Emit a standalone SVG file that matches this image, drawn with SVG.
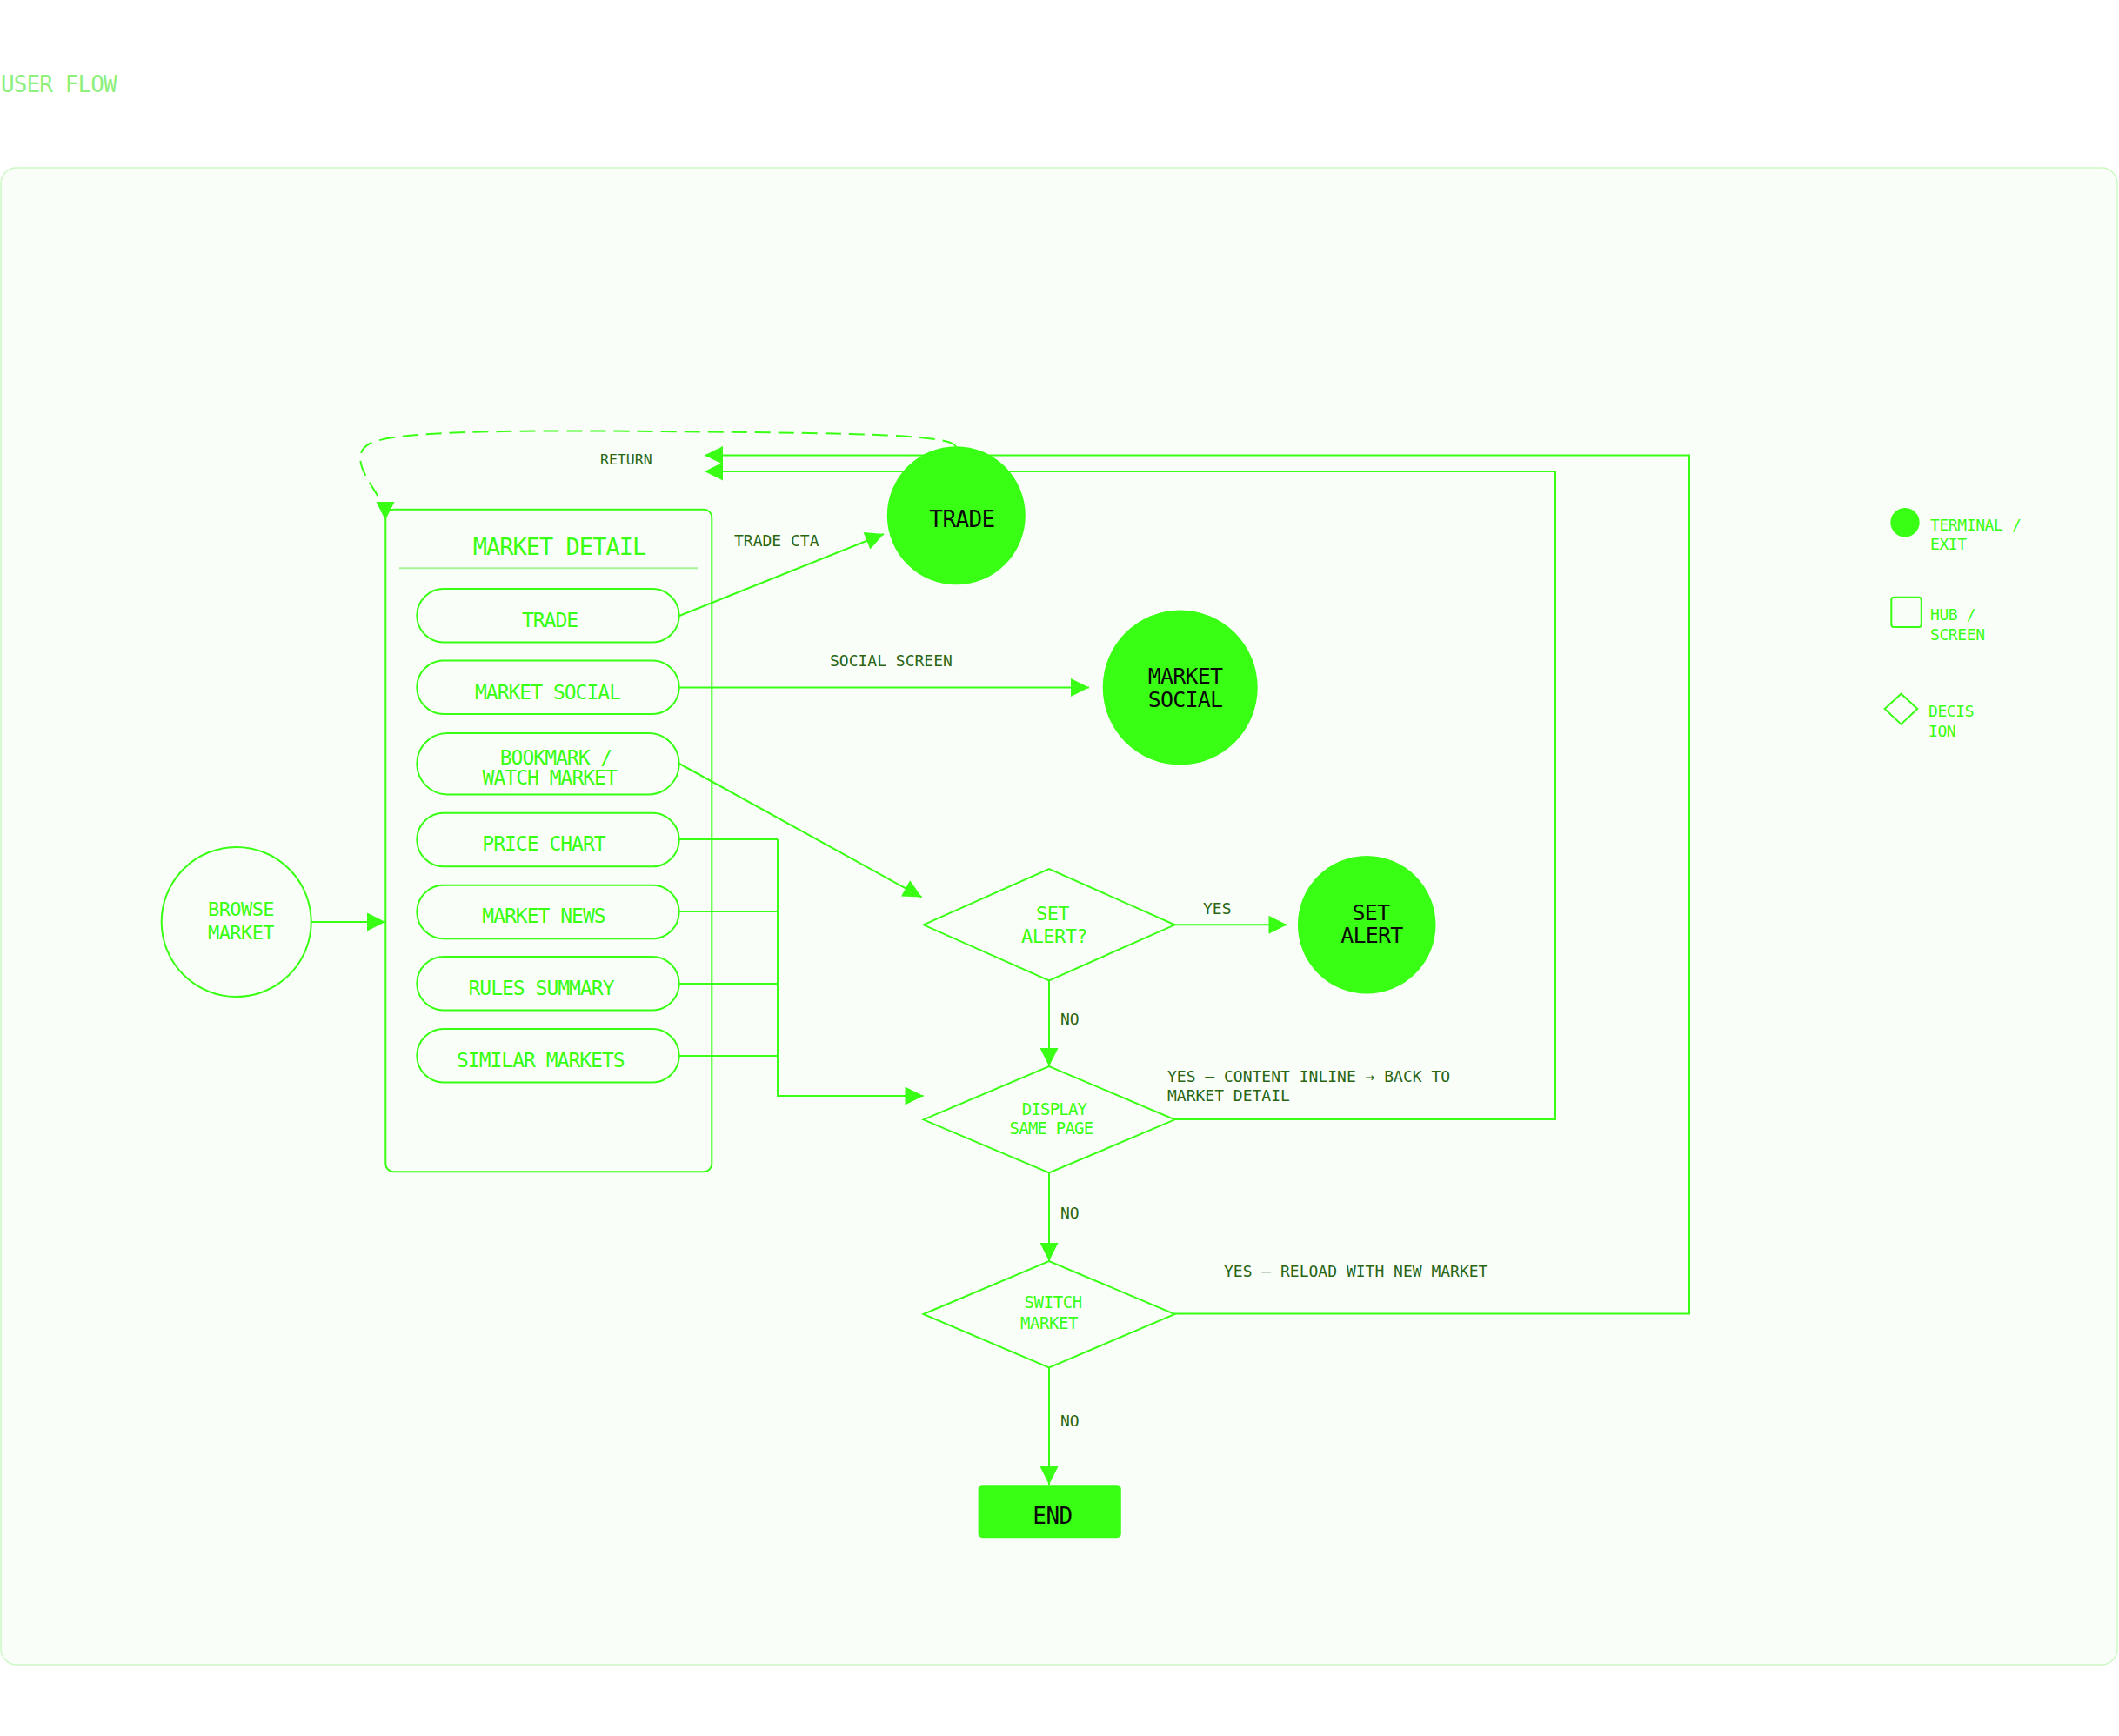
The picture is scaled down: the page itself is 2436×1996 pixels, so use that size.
<svg xmlns="http://www.w3.org/2000/svg" width="2436" height="1996" viewBox="0 0 2436 1996">
<defs>
<style>
text{font-family:"DejaVu Sans Mono","Liberation Mono",monospace;}
.ln{fill:none;stroke:#39ff14;stroke-width:2;}
.dash{fill:none;stroke:#39ff14;stroke-width:2;stroke-dasharray:18 9;}
.pill{fill:#f9fef8;stroke:#39ff14;stroke-width:2;}
.term{fill:#39ff14;}
.dia{fill:#f9fef8;stroke:#39ff14;stroke-width:2;}
.pt{fill:#39ff14;font-size:23px;letter-spacing:-1px;text-anchor:middle;}
.tt{fill:#0a0a0a;font-size:25px;letter-spacing:-0.8px;text-anchor:middle;}
.dt{fill:#39ff14;text-anchor:middle;}
.lbl{fill:#2a6614;font-size:18px;}
.lg{fill:#39ff14;font-size:18px;letter-spacing:-0.4px;}
</style>
<marker id="ah" viewBox="0 0 10 10" refX="10" refY="5" markerUnits="userSpaceOnUse" markerWidth="22" markerHeight="21" orient="auto">
<path d="M0,0 L10,5 L0,10 z" fill="#39ff14"/>
</marker>
</defs>
<rect x="0" y="0" width="2436" height="1996" fill="#ffffff"/>
<text x="1" y="106" style="fill:#8ef07c;font-size:26px;letter-spacing:-0.9px;">USER FLOW</text>
<rect x="1" y="193" width="2433" height="1721" rx="18" fill="#f9fef8" stroke="#cdf7c4" stroke-width="1.5"/>

<g id="market-detail">
<rect x="443.3" y="585.7" width="375" height="761.5" rx="9" fill="none" stroke="#39ff14" stroke-width="2"/>
<text class="dt" x="643" y="638" style="font-size:27px;letter-spacing:-1px;">MARKET DETAIL</text>
<line x1="459" y1="653.3" x2="802" y2="653.3" stroke="#a6f39a" stroke-width="2"/>
</g>

<g id="connectors">
<path class="ln" d="M357.7,1060 H443" marker-end="url(#ah)"/>
<path class="ln" d="M781,708 L1016,614" marker-end="url(#ah)"/>
<path class="ln" d="M781,790.5 H1252" marker-end="url(#ah)"/>
<path class="ln" d="M781,878 L1059.5,1031.5" marker-end="url(#ah)"/>
<path class="ln" d="M781,965 H894 M781,1048 H894 M781,1131 H894 M781,1214 H894"/>
<path class="ln" d="M894,965 V1260 H1061.5" marker-end="url(#ah)"/>
<path class="ln" d="M1350,1063.3 H1479.5" marker-end="url(#ah)"/>
<path class="ln" d="M1206,1127.3 V1226" marker-end="url(#ah)"/>
<path class="ln" d="M1206,1348.5 V1450" marker-end="url(#ah)"/>
<path class="ln" d="M1206,1572.3 V1707" marker-end="url(#ah)"/>
<path class="ln" d="M1350,1287 H1788 V542 H810" marker-end="url(#ah)"/>
<path class="ln" d="M1350,1510.5 H1942 V523.5 H810" marker-end="url(#ah)"/>
<path class="dash" d="M1099,514 C1096,500 1000,498 760,496 C560,494 450,497 425,510 C410,518 413,533 420,546 C430,566 443,578 443,598" marker-end="url(#ah)"/>
<text class="lbl" x="690" y="534" style="font-size:16.5px;">RETURN</text>
<text class="lbl" x="844" y="627.5">TRADE CTA</text>
<text class="lbl" x="954" y="766">SOCIAL SCREEN</text>
<text class="lbl" x="1383" y="1050.5">YES</text>
<text class="lbl" x="1219" y="1178">NO</text>
<text class="lbl" x="1342" y="1244">YES – CONTENT INLINE → BACK TO</text>
<text class="lbl" x="1342" y="1266">MARKET DETAIL</text>
<text class="lbl" x="1219" y="1401">NO</text>
<text class="lbl" x="1407" y="1468">YES – RELOAD WITH NEW MARKET</text>
<text class="lbl" x="1219" y="1640">NO</text>
</g>

<g id="browse-market">
<circle cx="271.7" cy="1060" r="86" fill="#f9fef8" stroke="#39ff14" stroke-width="2"/>
<text class="dt" x="277" y="1052.5" style="font-size:22px;letter-spacing:-0.6px;">BROWSE</text>
<text class="dt" x="277" y="1079.5" style="font-size:22px;letter-spacing:-0.6px;">MARKET</text>
</g>

<g id="pill-trade">
<rect class="pill" x="479.3" y="677" width="301.4" height="61.5" rx="30.75"/>
<text class="pt" x="632" y="721">TRADE</text>
</g>
<g id="pill-market-social">
<rect class="pill" x="479.3" y="759.5" width="301.4" height="61.5" rx="30.75"/>
<text class="pt" x="629.5" y="804.3">MARKET SOCIAL</text>
</g>
<g id="pill-bookmark">
<rect class="pill" x="479.3" y="843" width="301.4" height="70.4" rx="35.2"/>
<text class="pt" x="639" y="879">BOOKMARK /</text>
<text class="pt" x="631.7" y="902">WATCH MARKET</text>
</g>
<g id="pill-price-chart">
<rect class="pill" x="479.3" y="934.8" width="301.4" height="61.5" rx="30.75"/>
<text class="pt" x="625" y="977.5">PRICE CHART</text>
</g>
<g id="pill-market-news">
<rect class="pill" x="479.3" y="1017.8" width="301.4" height="61.5" rx="30.75"/>
<text class="pt" x="625" y="1061">MARKET NEWS</text>
</g>
<g id="pill-rules-summary">
<rect class="pill" x="479.3" y="1100" width="301.4" height="61.5" rx="30.75"/>
<text class="pt" x="622" y="1143.5">RULES SUMMARY</text>
</g>
<g id="pill-similar-markets">
<rect class="pill" x="479.3" y="1183" width="301.4" height="61.5" rx="30.75"/>
<text class="pt" x="621.3" y="1226.5">SIMILAR MARKETS</text>
</g>

<g id="trade">
<circle class="term" cx="1099.3" cy="592.8" r="79.5"/>
<text class="tt" x="1106" y="606" style="font-size:26px;letter-spacing:-0.6px;">TRADE</text>
</g>
<g id="market-social">
<circle class="term" cx="1356.7" cy="790.5" r="89"/>
<text class="tt" x="1362.5" y="786">MARKET</text>
<text class="tt" x="1362.5" y="812.7">SOCIAL</text>
</g>

<g id="set-alert-decision">
<polygon class="dia" points="1061.5,1063.3 1206,999 1350.5,1063.3 1206,1127.3"/>
<text class="dt" x="1210" y="1057.7" style="font-size:22px;letter-spacing:-0.6px;">SET</text>
<text class="dt" x="1212" y="1084" style="font-size:22px;letter-spacing:-0.6px;">ALERT?</text>
</g>
<g id="set-alert">
<circle class="term" cx="1571.2" cy="1063.3" r="79.3"/>
<text class="tt" x="1576" y="1058.3">SET</text>
<text class="tt" x="1577" y="1084">ALERT</text>
</g>

<g id="display-same-page">
<polygon class="dia" points="1061.5,1287.3 1206,1226 1350.5,1287.3 1206,1348.5"/>
<text class="dt" x="1212" y="1281.7" style="font-size:19px;letter-spacing:-0.8px;">DISPLAY</text>
<text class="dt" x="1208.5" y="1304.3" style="font-size:19px;letter-spacing:-0.8px;">SAME PAGE</text>
</g>

<g id="switch-market">
<polygon class="dia" points="1061.5,1511 1206,1450 1350.5,1511 1206,1572.3"/>
<text class="dt" x="1210.7" y="1504" style="font-size:19px;letter-spacing:-0.4px;">SWITCH</text>
<text class="dt" x="1206" y="1528.3" style="font-size:19px;letter-spacing:-0.4px;">MARKET</text>
</g>

<g id="end">
<rect class="term" x="1124.6" y="1707.3" width="164.2" height="61" rx="5"/>
<text class="tt" x="1210" y="1752.3" style="font-size:26px;letter-spacing:-0.5px;">END</text>
</g>

<g id="legend">
<circle class="term" cx="2190" cy="600.7" r="16.7"/>
<text class="lg" x="2219" y="610">TERMINAL /</text>
<text class="lg" x="2219" y="631.7">EXIT</text>
<rect x="2174.3" y="686.7" width="34.5" height="34.3" rx="3" fill="none" stroke="#39ff14" stroke-width="2"/>
<text class="lg" x="2219" y="713.3">HUB /</text>
<text class="lg" x="2219" y="735.7">SCREEN</text>
<polygon points="2166.7,815 2185.5,797.7 2204.3,815 2185.5,832.7" fill="none" stroke="#39ff14" stroke-width="2"/>
<text class="lg" x="2217" y="824">DECIS</text>
<text class="lg" x="2217" y="846.7">ION</text>
</g>
</svg>
